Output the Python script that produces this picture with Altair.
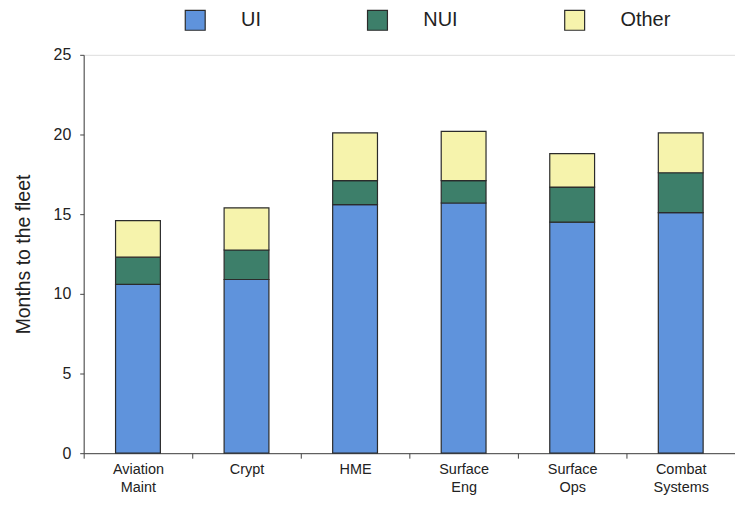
import altair as alt
import pandas as pd

categories = ["Aviation Maint", "Crypt", "HME", "Surface Eng", "Surface Ops", "Combat Systems"]
series = ["UI", "NUI", "Other"]
ui = [10.6, 10.9, 15.6, 15.7, 14.5, 15.1]
nui = [1.7, 1.85, 1.5, 1.4, 2.2, 2.5]
other = [2.3, 2.65, 3.0, 3.1, 2.1, 2.5]
colors = ["#5f93dc", "#3d7f6a", "#f6f3ac"]

rows = []
for i, c in enumerate(categories):
    for j, (s, vals) in enumerate(zip(series, [ui, nui, other])):
        rows.append({"cat": c, "series": s, "idx": j, "value": vals[i]})
df = pd.DataFrame(rows)

font = "Liberation Sans"

chart = alt.Chart(df).mark_bar(width=45, stroke="#2b2b2b", strokeWidth=1.2).encode(
    x=alt.X("cat:N", sort=categories, title=None,
            scale=alt.Scale(paddingInner=0, paddingOuter=0),
            axis=alt.Axis(labelAngle=0, tickBand="extent", labelExpr="split(datum.label, ' ')",
                          labelFont=font, labelFontSize=14.5, labelColor="#222",
                          labelLineHeight=18, labelPadding=4, tickSize=5,
                          domainColor="#444", tickColor="#444", labelBaseline="top")),
    y=alt.Y("value:Q", stack="zero", title="Months to the fleet",
            scale=alt.Scale(domain=[0, 25]),
            axis=alt.Axis(values=[0, 5, 10, 15, 20, 25], grid=False, tickSize=4,
                          labelFont=font, labelFontSize=16, labelColor="#222", labelPadding=9,
                          titleFont=font, titleFontSize=19.5, titleFontWeight="normal",
                          titleColor="#222", titlePadding=20,
                          domainColor="#444", tickColor="#444")),
    color=alt.Color("series:N", sort=series,
                    scale=alt.Scale(domain=series, range=colors),
                    legend=alt.Legend(title=None, orient="none", direction="horizontal",
                                      legendX=101, legendY=-46,
                                      symbolType="square", symbolSize=400,
                                      symbolStrokeColor="#2b2b2b", symbolStrokeWidth=1.2,
                                      labelFont=font, labelFontSize=20, labelColor="#222",
                                      labelOffset=35, columnPadding=104)),
    order=alt.Order("idx:Q", sort="ascending"),
).properties(
    width=654, height=400,
    padding={"left": 76, "top": 46, "right": 0, "bottom": 50},
    autosize=alt.AutoSizeParams(type="none"),
).configure_view(stroke=None).configure(background="white")

chart.save("out.html", embed_options={"renderer": "svg", "actions": False})
